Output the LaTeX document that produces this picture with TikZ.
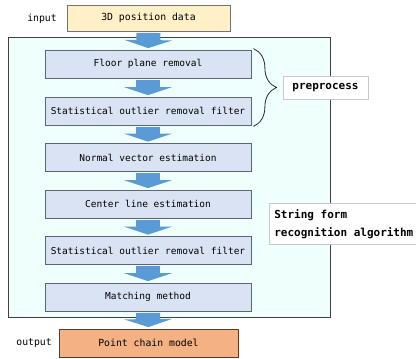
\documentclass[tikz,border=0pt]{standalone}
\usepackage{fontspec}
\setmonofont{DejaVu Sans Mono}
\usepackage{xcolor}
\usetikzlibrary{arrows.meta, positioning, decorations.pathreplacing, backgrounds}

% Colours of the flow chart
\definecolor{inputfill}{HTML}{FFF0C8}
\definecolor{outputfill}{HTML}{F4B183}
\definecolor{outputline}{HTML}{5A3A28}
\definecolor{stepfill}{HTML}{DAE3F3}
\definecolor{stepline}{HTML}{5E6472}
\definecolor{algofill}{HTML}{EFFFFB}
\definecolor{flowblue}{HTML}{5B9BD5}

\tikzset{
  stepbox/.style={draw=stepline, line width=0.8pt, fill=stepfill,
    minimum width=206pt, minimum height=28pt, inner sep=0pt,
    font=\ttfamily\fontsize{9.5}{11}\selectfont},
  databox/.style={draw=black!55, line width=0.8pt, inner sep=0pt,
    minimum height=26pt, font=\ttfamily\fontsize{9.8}{11}\selectfont},
  sidetext/.style={font=\ttfamily\fontsize{9.8}{11}\selectfont, inner sep=0pt},
  labelbox/.style={draw=black!22, line width=0.6pt, fill=white,
    font=\ttfamily\bfseries\fontsize{11}{18}\selectfont},
  flowarrow/.style={draw=flowblue, line width=24pt,
    -{Triangle[length=8pt, width=48pt]}, shorten <=1.5pt, shorten >=1.5pt},
}

\begin{document}
\begin{tikzpicture}[x=1pt, y=-1pt]

\useasboundingbox (0,0) rectangle (416,359);

% Frame of the recognition algorithm
\node[draw=black!75, line width=0.8pt, fill=algofill, minimum width=322pt,
  minimum height=280pt, inner sep=0pt] (algo) at (169,177) {};

% Input and output
\node[databox, fill=inputfill, minimum width=163pt] (input) at (148.5,18) {3D position data};
\node[sidetext, anchor=east] (inlabel) at (57,19) {input};
\node[databox, fill=outputfill, draw=outputline, minimum width=179pt, minimum height=28pt] (output) at (148.5,343) {Point chain model};
\node[sidetext, anchor=east] (outlabel) at (52,343) {output};

% Processing steps
\node[stepbox] (floor) at (148,64) {Floor plane removal};
\node[stepbox] (outlierA) at (148,111) {Statistical outlier removal filter};
\node[stepbox] (normal) at (148,157.5) {Normal vector estimation};
\node[stepbox] (center) at (148,204) {Center line estimation};
\node[stepbox] (outlierB) at (148,250.5) {Statistical outlier removal filter};
\node[stepbox] (matching) at (148,297) {Matching method};

% Flow arrows
\draw[flowarrow] (input) -- (floor);
\draw[flowarrow] (floor) -- (outlierA);
\draw[flowarrow] (outlierA) -- (normal);
\draw[flowarrow] (normal) -- (center);
\draw[flowarrow] (center) -- (outlierB);
\draw[flowarrow] (outlierB) -- (matching);
\draw[flowarrow] (matching) -- (output);

% Preprocess brace and labels
\coordinate (braceTop) at ([xshift=2pt, yshift=1pt]floor.north east);
\coordinate (braceBot) at ([xshift=2pt, yshift=-1pt]outlierA.south east);
\draw[black!85, line width=0.8pt, decorate, decoration={brace, amplitude=23pt}] (braceTop) -- (braceBot);
\node[labelbox, minimum width=85pt, minimum height=23pt, inner sep=0pt] (pre) at (325.5,87.5) {preprocess};
\node[labelbox, anchor=north west, minimum width=148pt, minimum height=41pt,
  inner xsep=5pt, inner ysep=0pt, align=left] (sfra) at (269,203)
  {String form\\recognition algorithm};

\end{tikzpicture}
\end{document}
